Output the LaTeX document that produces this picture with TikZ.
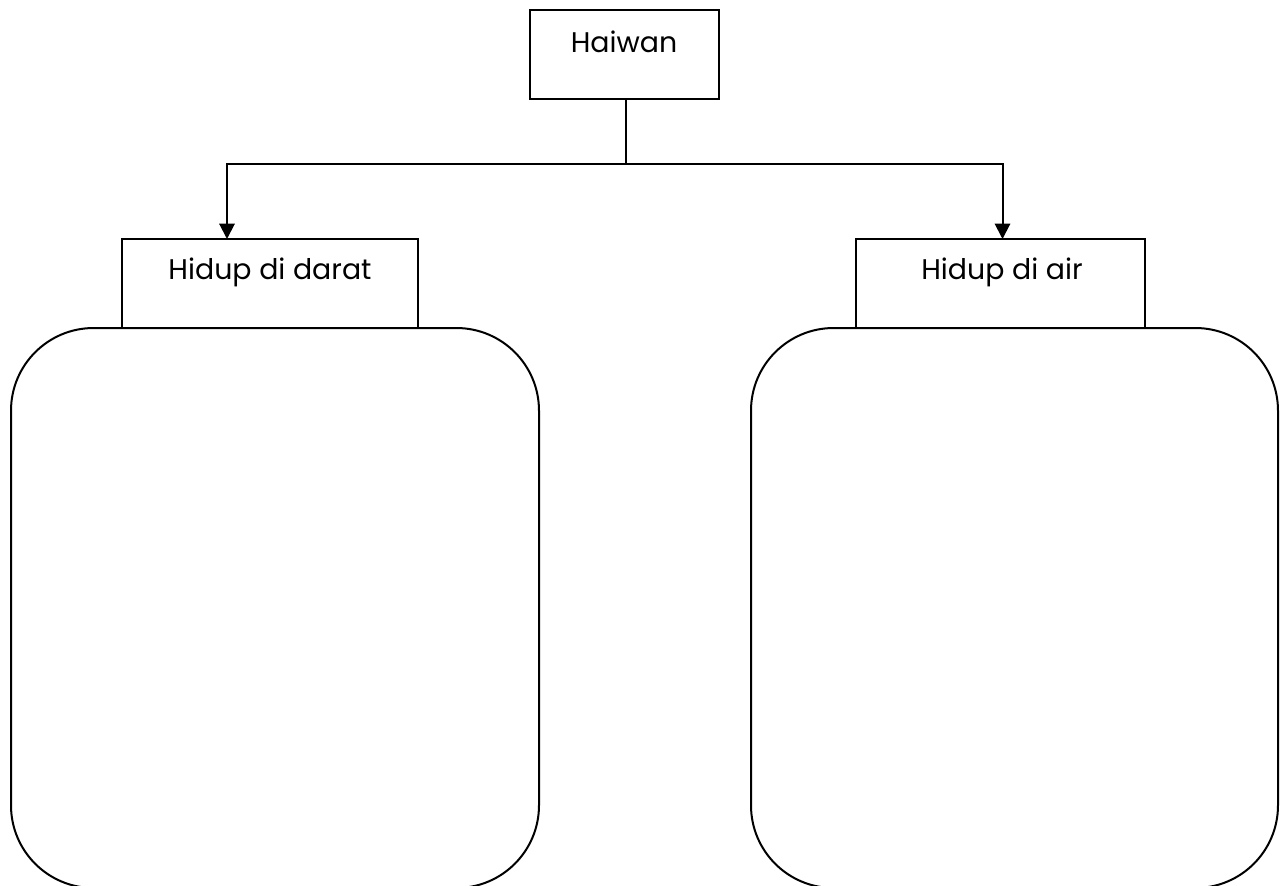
\documentclass[tikz,border=0pt]{standalone}
\usepackage{fontspec}
\setmainfont{Poppins}
\usetikzlibrary{arrows.meta}
\tikzset{
  box/.style={draw, line width=1.5pt, inner sep=0pt, outer sep=0pt, rectangle},
  bigbox/.style={draw, line width=1.5pt, inner sep=0pt, outer sep=0pt, rectangle, rounded corners=62pt, minimum width=396pt, minimum height=420pt},
  lbl/.style={anchor=base, inner sep=0pt, font=\fontsize{21.3}{25}\selectfont},
  conn/.style={line width=1.5pt},
  arr/.style={line width=1.5pt, -{Triangle[width=11.5pt,length=11.5pt]}}
}
\begin{document}
\begin{tikzpicture}[x=0.75pt,y=-0.75pt]
\useasboundingbox (0,0) rectangle (1283,886);
\clip (0,0) rectangle (1283,886);
\node[box, minimum width=141.75pt, minimum height=66.75pt] (haiwan) at (624.5,54.5) {};
\node[lbl] (thaiwan) at (624,52) {Haiwan};
\node[box, minimum width=222pt, minimum height=66.75pt] (darat) at (270,283.5) {};
\node[lbl] (tdarat) at (270,279) {Hidup di darat};
\node[box, minimum width=216.75pt, minimum height=66.75pt] (air) at (1000.5,283.5) {};
\node[lbl] (tair) at (1002,279) {Hidup di air};
\node[bigbox] (bdarat) at (275,608) {};
\node[bigbox, minimum width=395.25pt] (bair) at (1014.5,608) {};
\coordinate (j) at (626,164);
\draw[conn] (haiwan.south -| j) -- (j);
\draw[arr] (j) -| ([xshift=-32.25pt]darat.north);
\draw[arr] (j) -| ([xshift=1.5pt]air.north);
\end{tikzpicture}
\end{document}
